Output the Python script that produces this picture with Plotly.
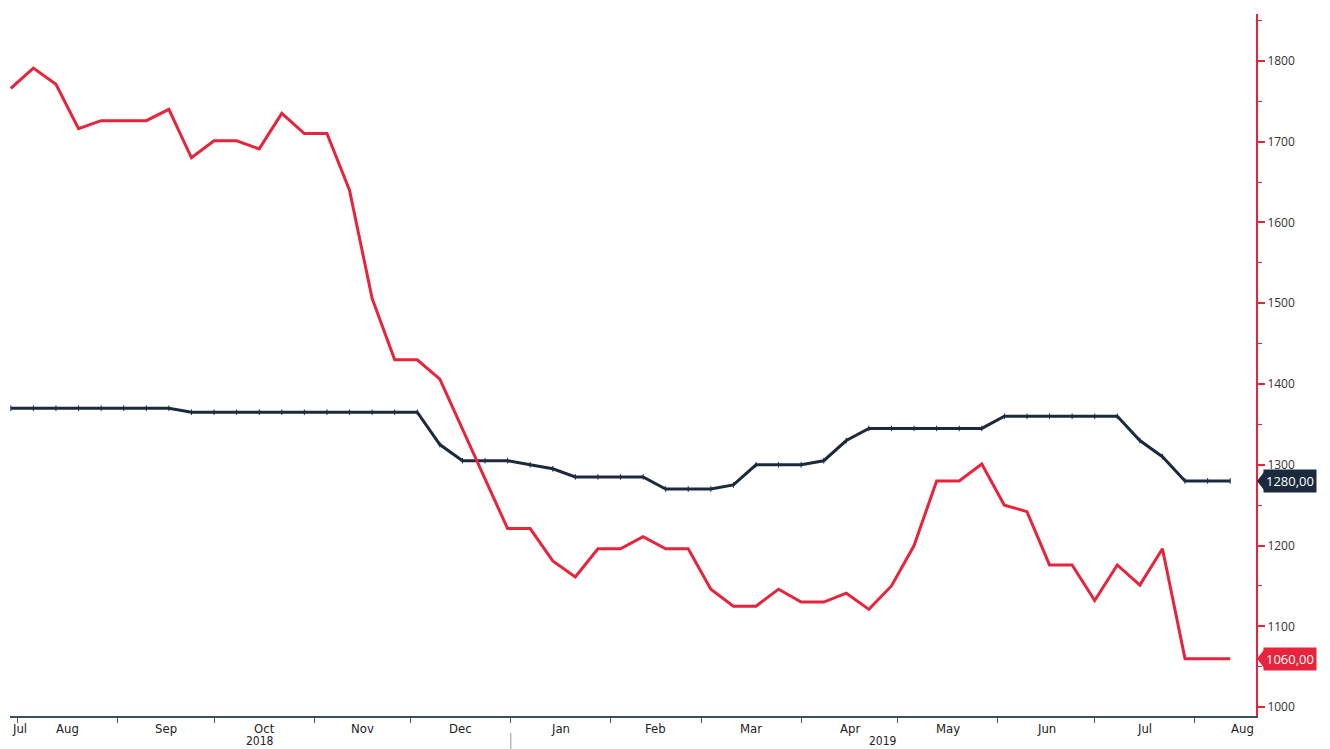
import pandas as pd
import plotly.graph_objects as go

# ---- data (weekly observations) ----
start_date = "2018-07-30"
n_weeks = 55
red_values = [1766, 1791, 1771, 1716, 1726, 1726, 1726, 1740, 1680, 1701,
              1701, 1691, 1735, 1710, 1710, 1640, 1506, 1430, 1430, 1406,
              1345, 1283, 1221, 1221, 1181, 1161, 1196, 1196, 1211, 1196,
              1196, 1146, 1125, 1125, 1146, 1130, 1130, 1141, 1121, 1150,
              1200, 1280, 1280, 1301, 1250, 1242, 1176, 1176, 1132, 1176,
              1151, 1196, 1060, 1060, 1060]
black_values = [1370, 1370, 1370, 1370, 1370, 1370, 1370, 1370, 1365, 1365,
                1365, 1365, 1365, 1365, 1365, 1365, 1365, 1365, 1365, 1325,
                1305, 1305, 1305, 1300, 1295, 1285, 1285, 1285, 1285, 1270,
                1270, 1270, 1275, 1300, 1300, 1300, 1305, 1330, 1345, 1345,
                1345, 1345, 1345, 1345, 1360, 1360, 1360, 1360, 1360, 1360,
                1330, 1310, 1280, 1280, 1280]
month_starts = ["2018-08-01", "2018-09-01", "2018-10-01", "2018-11-01", "2018-12-01",
                "2019-01-01", "2019-02-01", "2019-03-01", "2019-04-01", "2019-05-01",
                "2019-06-01", "2019-07-01", "2019-08-01"]
month_labels = ["Jul", "Aug", "Sep", "Oct", "Nov", "Dec", "Jan", "Feb", "Mar",
                "Apr", "May", "Jun", "Jul", "Aug"]
year_labels = ["2018", "2019"]
x_range = ["2018-07-29 18:00", "2019-08-20"]
y_range = [989, 1858]

dates = pd.date_range(start_date, periods=n_weeks, freq="7D")

RED = "#e8233c"
NAVY = "#1b2b3d"
LABEL_FONT = "DejaVu Sans Condensed, Liberation Sans Narrow, sans-serif"

# page body has an 8px margin, so the figure is drawn 8px smaller
FIG_W, FIG_H = 1322, 741
M_L, M_T, M_R, M_B = 2, 6, 74, 33

fig = go.Figure()
fig.add_trace(go.Scatter(x=dates, y=black_values, mode="lines+markers",
                         line=dict(color=NAVY, width=3),
                         marker=dict(symbol="line-ns-open", size=4,
                                     line=dict(color=NAVY, width=1)),
                         showlegend=False, hoverinfo="skip"))
fig.add_trace(go.Scatter(x=dates, y=red_values, mode="lines",
                         line=dict(color=RED, width=3),
                         showlegend=False, hoverinfo="skip"))

fig.update_layout(
    width=FIG_W, height=FIG_H,
    margin=dict(l=M_L, r=M_R, t=M_T, b=M_B),
    paper_bgcolor="white", plot_bgcolor="white",
    xaxis=dict(range=x_range, type="date", showgrid=False, zeroline=False,
               tickmode="array", tickvals=month_starts,
               ticktext=[""] * len(month_starts),
               ticks="outside", ticklen=5, tickcolor="#555555", tickwidth=1,
               showline=True, linecolor="#3d4f60", linewidth=1.5),
    yaxis=dict(range=y_range, side="right", showgrid=False, zeroline=False,
               tickmode="linear", tick0=1000, dtick=100,
               ticks="outside", ticklen=7, tickwidth=2, tickcolor=RED,
               minor=dict(dtick=50, tick0=1000, ticks="outside", ticklen=4,
                          tickcolor=RED, tickwidth=1),
               showline=True, linecolor=RED, linewidth=2,
               tickfont=dict(family="Open Sans, sans-serif", size=12, color="#333333")),
)

# ---- month labels centred in each month period ----
ms = pd.to_datetime(month_starts)
xr0, xr1 = pd.Timestamp(x_range[0]), pd.Timestamp(x_range[1])
bounds = [xr0] + list(ms) + [xr1]
for i, lab in enumerate(month_labels):
    a, b = bounds[i], bounds[i + 1]
    if i == 0:
        xpos, anchor = a, "left"
    elif i == len(month_labels) - 1:
        xpos, anchor = b, "right"
    else:
        xpos, anchor = a + (b - a) / 2, "center"
    fig.add_annotation(x=xpos, xref="x", y=0, yref="paper", yanchor="top",
                       yshift=-3, xanchor=anchor, text=lab, showarrow=False,
                       font=dict(family=LABEL_FONT, size=13, color="#222222"))

# ---- year labels and divider ----
year_break = pd.Timestamp("2019-01-01")
for lab, (a, b) in zip(year_labels, [(xr0, year_break), (year_break, xr1)]):
    fig.add_annotation(x=a + (b - a) / 2, xref="x", y=0, yref="paper", yanchor="top",
                       yshift=-16, text=lab, showarrow=False,
                       font=dict(family=LABEL_FONT, size=12, color="#222222"))
plot_h = FIG_H - M_T - M_B
fig.add_shape(type="line", x0=year_break, x1=year_break, xref="x",
              y0=-17 / plot_h, y1=-33 / plot_h, yref="paper",
              line=dict(color="#999999", width=1))

# ---- last value tags ----
plot_w = FIG_W - M_L - M_R
units_per_px = (y_range[1] - y_range[0]) / plot_h
for val, col in [(black_values[-1], NAVY), (red_values[-1], RED)]:
    txt = f"{val:.2f}".replace(".", ",")
    fig.add_annotation(x=1, xref="paper", y=val, yref="y", xanchor="left",
                       xshift=7, text=txt, showarrow=False, bgcolor=col,
                       borderpad=2, font=dict(family="Open Sans, sans-serif",
                                              size=13, color="white"))
    tip = 1 + 1 / plot_w
    base = 1 + 8 / plot_w
    hh = 9 * units_per_px
    fig.add_shape(type="path", xref="paper", yref="y",
                  path=f"M {tip},{val} L {base},{val + hh} L {base},{val - hh} Z",
                  fillcolor=col, line=dict(width=0))

fig.write_html("out.html")
